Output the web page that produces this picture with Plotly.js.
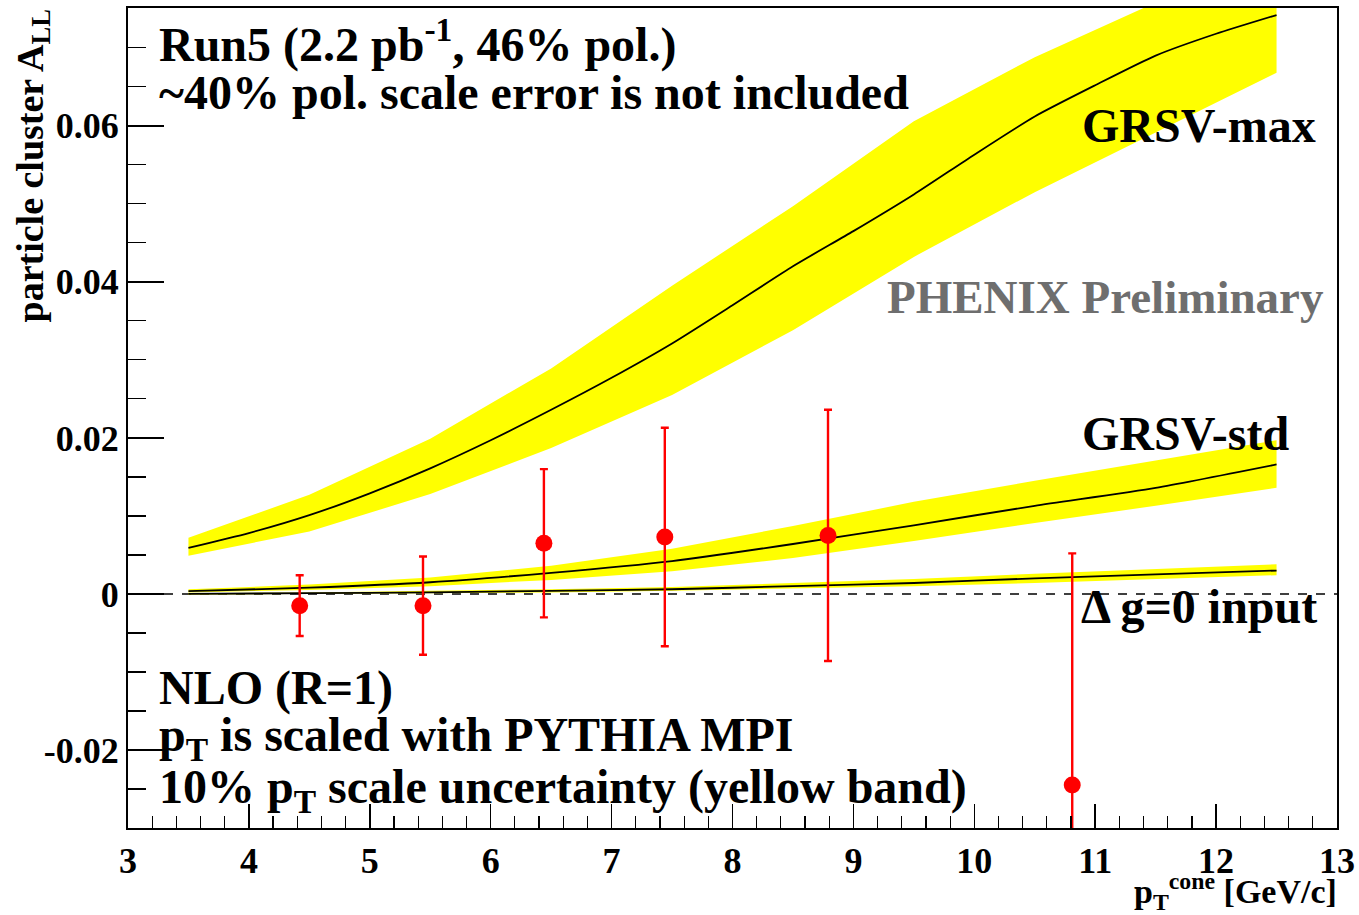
<!DOCTYPE html>
<html>
<head>
<meta charset="utf-8">
<script src="https://cdn.plot.ly/plotly-3.0.1.min.js"></script>
<style>html,body{margin:0;padding:0;background:#fff;}#plot{width:1359px;height:915px;}</style>
</head>
<body>
<div id="plot"></div>
<script>
// ---------- data ----------
// GRSV-max central curve
const maxX = [3.5,4.0,4.5,5.0,5.5,6.0,6.5,7.0,7.5,8.0,8.5,9.0,9.5,10.0,10.5,11.0,11.5,12.0,12.5];
const maxY = [0.0059,0.0078,0.0101,0.0129,0.0161,0.0197,0.0236,0.0277,0.0321,0.0370,0.0420,0.0465,0.0512,0.0563,0.0612,0.0652,0.0690,0.0718,0.0742];
// band nodes (every 1 GeV/c)
const bandX = [3.5,4.5,5.5,6.5,7.5,8.5,9.5,10.5,11.5,12.5];
const maxUp = [0.0072,0.0127,0.0199,0.0289,0.0395,0.0497,0.0606,0.0688,0.0758,0.0820];
const maxLo = [0.0049,0.0080,0.0128,0.0187,0.0255,0.0338,0.0432,0.0515,0.0592,0.0668];
// GRSV-std
const stdY  = [0.00035,0.0008,0.0015,0.0027,0.0042,0.0064,0.0088,0.0113,0.0136,0.0166];
const stdUp = [0.0006,0.0012,0.0021,0.0036,0.0058,0.0087,0.0118,0.0145,0.0171,0.0197];
const stdLo = [0.0002,0.0005,0.0010,0.0018,0.0029,0.0046,0.0068,0.0091,0.0113,0.0136];
// Delta g = 0
const zeroY  = [0.0000,0.0001,0.0002,0.0004,0.0006,0.0010,0.0014,0.0020,0.0025,0.0030];
const zeroUp = [0.0001,0.0002,0.0004,0.0006,0.0009,0.0014,0.0019,0.0026,0.0032,0.0038];
const zeroLo = [-0.0001,0.0000,0.0001,0.0002,0.0004,0.0007,0.0010,0.0014,0.0019,0.0024];
// PHENIX Run5 data
const dataX = [4.42,5.44,6.44,7.44,8.79,10.81];
const dataY = [-0.0015,-0.0015,0.0065,0.0073,0.0075,-0.0245];
const dataErr = [0.0039,0.0063,0.0095,0.0140,0.0161,0.0297];
// axis ticks
const xTickVals = [3,4,5,6,7,8,9,10,11,12,13];
const xTickText = ['3','4','5','6','7','8','9','10','11','12','13'];
const yTickVals = [-0.02,0,0.02,0.04,0.06];
const yTickText = ['-0.02','0','0.02','0.04','0.06'];

// ---------- helpers ----------
const FONT = 'Liberation Serif, Times New Roman, serif';
function band(x, up, lo) {
  return { x: x.concat(x.slice().reverse()), y: up.concat(lo.slice().reverse()) };
}
const L = 128, R = 1337, T = 8, B = 828;
const px = v => (v - L) / (R - L);
const py = v => (B - v) / (B - T);

const bMax = band(bandX, maxUp, maxLo);
const bStd = band(bandX, stdUp, stdLo);
const bZero = band(bandX, zeroUp, zeroLo);

const bandStyle = {type:'scatter', mode:'lines', fill:'toself', fillcolor:'#ffff00', line:{width:0, color:'#ffff00'}, hoverinfo:'skip', showlegend:false};
const lineStyle = {type:'scatter', mode:'lines', line:{color:'#000', width:1.8, shape:'spline', smoothing:0.6}, showlegend:false};

const traces = [
  Object.assign({}, bandStyle, {x:bMax.x, y:bMax.y}),
  Object.assign({}, bandStyle, {x:bStd.x, y:bStd.y}),
  Object.assign({}, bandStyle, {x:bZero.x, y:bZero.y}),
  Object.assign({}, lineStyle, {x:maxX, y:maxY}),
  Object.assign({}, lineStyle, {x:bandX, y:stdY}),
  Object.assign({}, lineStyle, {x:bandX, y:zeroY}),
  {type:'scatter', mode:'markers', x:dataX, y:dataY, showlegend:false,
   marker:{color:'#ff0000', size:17, symbol:'circle'},
   error_y:{type:'data', array:dataErr, symmetric:true, color:'#ff0000', thickness:2.4, width:4}}
];

function ann(text, xpx, ypx, size, opts) {
  return Object.assign({
    text: text, xref:'paper', yref:'paper', x: px(xpx), y: py(ypx),
    xanchor:'left', yanchor:'middle', showarrow:false,
    font:{family:FONT, size:size, color:'#000', weight:'bold'}
  }, opts || {});
}

const annotations = [
  ann('Run5 (2.2 pb<sup>-1</sup>, 46% pol.)', 157, 41, 48),
  ann('~40% pol. scale error is not included', 157, 93, 48),
  ann('GRSV-max', 1080, 125, 48),
  ann('PHENIX Preliminary', 885, 297, 47, {font:{family:FONT, size:47, color:'#6e6e6e', weight:'bold'}}),
  ann('GRSV-std', 1080, 433, 48),
  ann('\u0394 g=0 input', 1079, 606, 48),
  ann('NLO (R=1)', 157, 688, 48),
  ann('p<sub>T</sub> is scaled with PYTHIA MPI', 157, 738, 48),
  ann('10% p<sub>T</sub> scale uncertainty (yellow band)', 157, 790, 48),
  ann('p<sub>T</sub><sup>cone</sup> [GeV/c]', 1339, 891, 34, {xanchor:'right'}),
  ann('particle cluster A<sub>LL</sub>', 32, 8, 38, {xanchor:'center', yanchor:'top', textangle:-90})
];

const layout = {
  width:1359, height:915,
  margin:{l:L, r:1359-R, t:T, b:915-B, pad:0},
  paper_bgcolor:'#fff', plot_bgcolor:'#fff',
  showlegend:false,
  xaxis:{
    range:[3,13], tickmode:'array', tickvals:xTickVals, ticktext:xTickText,
    ticks:'inside', ticklen:24, tickwidth:1.5, tickcolor:'#000',
    minor:{dtick:0.2, tick0:3, ticks:'inside', ticklen:12, tickwidth:1.2, tickcolor:'#000', showgrid:false},
    showgrid:false, zeroline:false, showline:true, mirror:true, linewidth:2, linecolor:'#000',
    tickfont:{family:FONT, size:36, color:'#000', weight:'bold'}, fixedrange:true
  },
  yaxis:{
    range:[-0.03,0.0751], tickmode:'array', tickvals:yTickVals, ticktext:yTickText,
    ticks:'inside', ticklen:36, tickwidth:1.5, tickcolor:'#000',
    minor:{dtick:0.005, tick0:0, ticks:'inside', ticklen:18, tickwidth:1.2, tickcolor:'#000', showgrid:false},
    showgrid:false, zeroline:false, showline:true, mirror:true, linewidth:2, linecolor:'#000',
    tickfont:{family:FONT, size:36, color:'#000', weight:'bold'}, fixedrange:true
  },
  shapes:[
    {type:'line', xref:'x', yref:'y', x0:3, x1:13, y0:0, y1:0, layer:'below',
     line:{color:'#000', width:1.5, dash:'dash'}}
  ],
  annotations: annotations
};

Plotly.newPlot('plot', traces, layout, {staticPlot:true, displayModeBar:false});
</script>
</body>
</html>
